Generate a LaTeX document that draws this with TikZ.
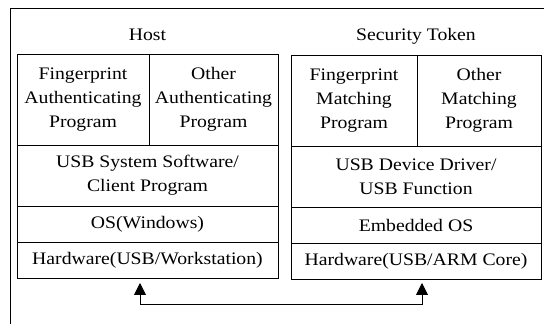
\documentclass[tikz,border=0pt]{standalone}
\usepackage{fontspec}
\setmainfont{Liberation Serif}[FakeStretch=1.12]
\usetikzlibrary{arrows.meta,positioning}
\tikzset{
  cellbox/.style={draw, line width=0.9pt, inner sep=0pt, outer sep=0pt, align=center,
    font=\fontsize{17.6}{24}\selectfont},
  layerbox/.style={cellbox, anchor=north west},
  titlelabel/.style={anchor=base, font=\fontsize{17.6}{24}\selectfont},
  frameline/.style={line width=0.9pt},
  arr/.style={{Triangle[length=12pt,width=12pt]}-{Triangle[length=12pt,width=12pt]}, line width=0.9pt}
}
\begin{document}
\begin{tikzpicture}[x=1pt, y=1pt]
    \useasboundingbox (0,0) rectangle (544,324);
    \draw[frameline] (10,0) -- (10,316) -- (544,316);
    \node[titlelabel] (hostlbl) at (147.5,283) {Host};
    \node[layerbox, minimum width=132pt, minimum height=91pt] (hfp) at (17,270) {Fingerprint\\Authenticating\\Program};
    \node[layerbox, minimum width=129pt, minimum height=91pt] (hother) at (hfp.north east) {Other\\Authenticating\\Program};
    \node[layerbox, minimum width=261pt, minimum height=61pt] (husb) at (hfp.south west) {USB System Software/\\Client Program};
    \node[layerbox, minimum width=261pt, minimum height=36pt] (hos) at (husb.south west) {OS(Windows)};
    \node[layerbox, minimum width=261pt, minimum height=36pt] (hhw) at (hos.south west) {Hardware(USB/Workstation)};
    \node[titlelabel] (tokenlbl) at (416,283) {Security Token};
    \node[layerbox, minimum width=126pt, minimum height=91pt] (tfp) at (291,269) {Fingerprint\\Matching\\Program};
    \node[layerbox, minimum width=124pt, minimum height=91pt] (tother) at (tfp.north east) {Other\\Matching\\Program};
    \node[layerbox, minimum width=250pt, minimum height=61pt] (tusb) at (tfp.south west) {USB Device Driver/\\USB Function};
    \node[layerbox, minimum width=250pt, minimum height=36pt] (tos) at (tusb.south west) {Embedded OS};
    \node[layerbox, minimum width=250pt, minimum height=36pt] (thw) at (tos.south west) {Hardware(USB/ARM Core)};
    \draw[arr] ([xshift=-7.5pt,yshift=-5pt]hhw.south) -- ++(0,-21) -| ([xshift=6pt,yshift=-4pt]thw.south);
  \end{tikzpicture}
\end{document}
